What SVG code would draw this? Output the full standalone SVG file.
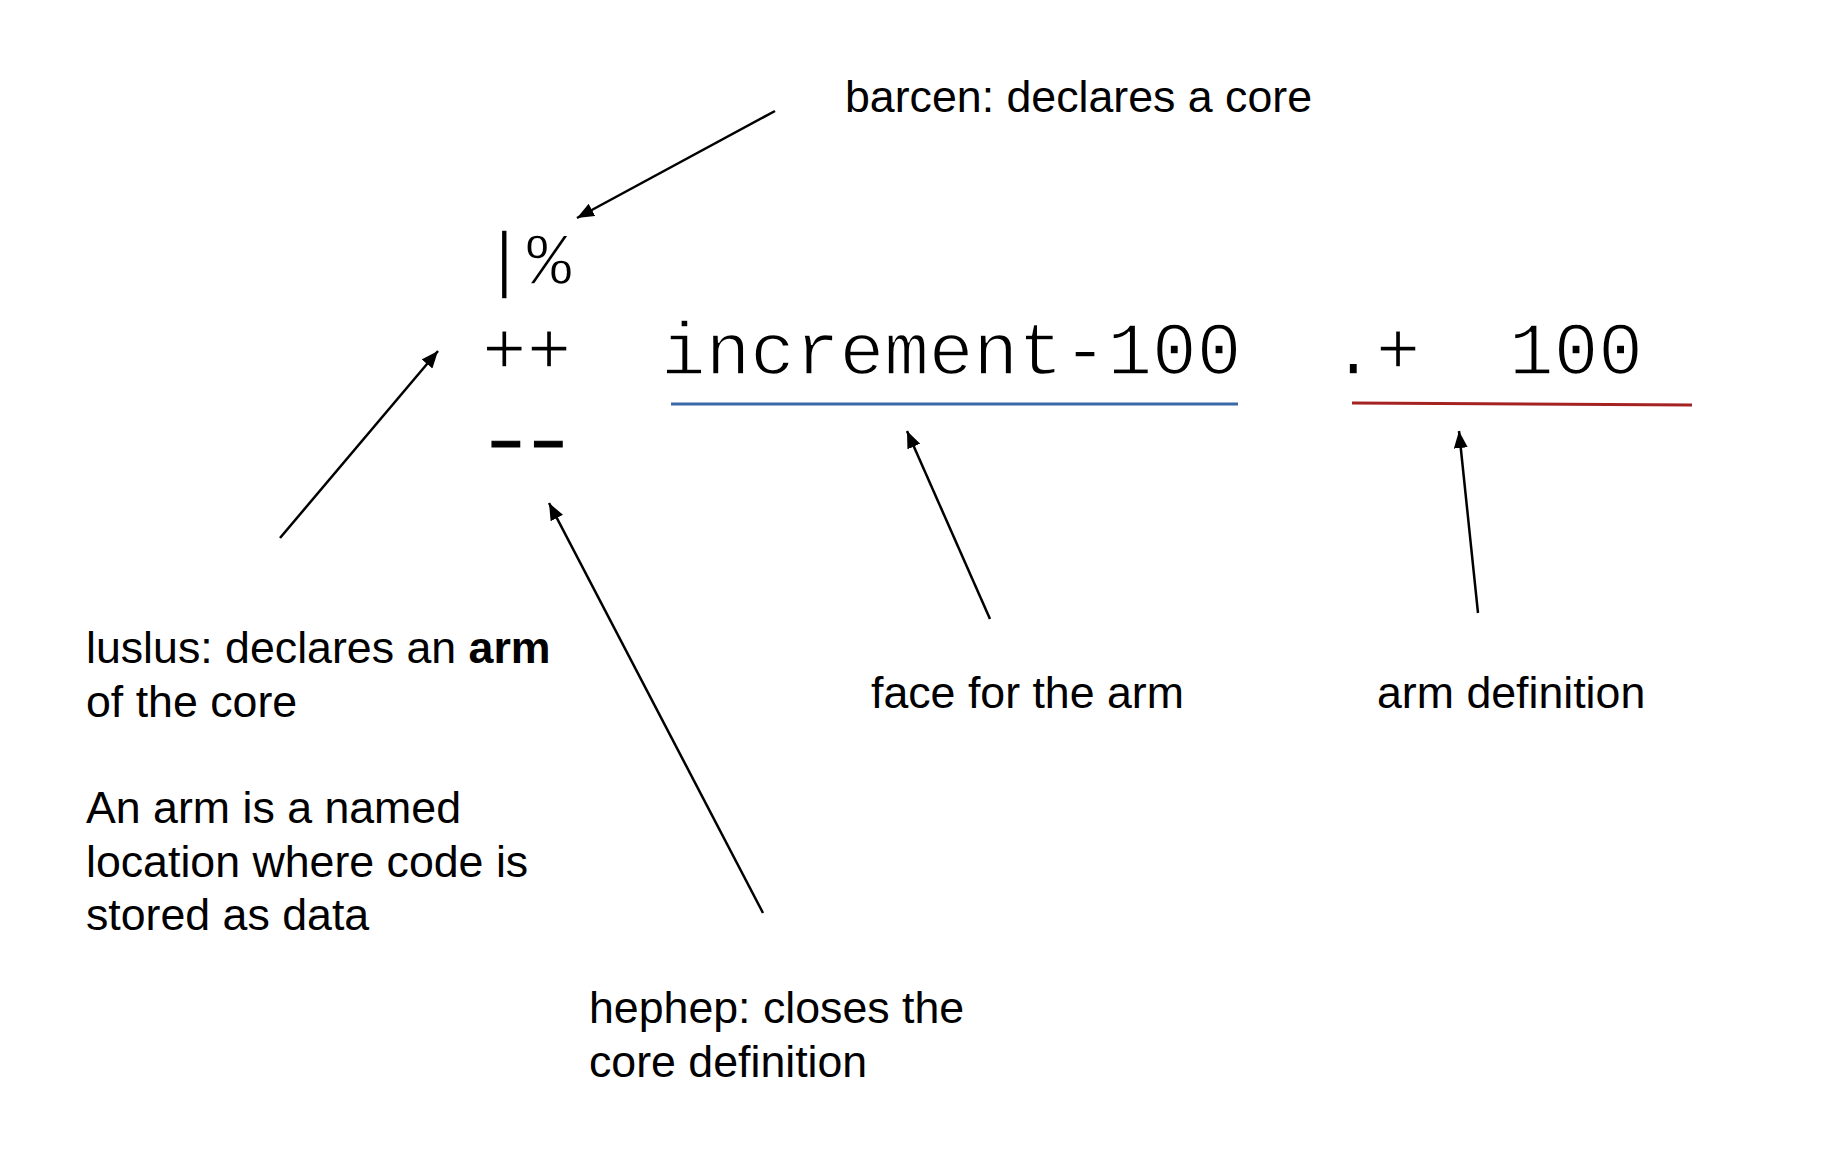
<svg xmlns="http://www.w3.org/2000/svg" width="1830" height="1150" viewBox="0 0 1830 1150">
<defs>
<style>
.lbl{font-family:"Liberation Sans",Arial,sans-serif;font-size:44.7px;fill:#000}
.code{font-family:"Liberation Mono","Courier New",monospace;font-size:74.4px;fill:#000;stroke:#fff;stroke-width:1.6px}
.dash{font-family:"Liberation Mono","Courier New",monospace;font-size:74.4px;fill:#000;stroke:#000;stroke-width:1px;letter-spacing:-13.1px}
.conn line{stroke:#000;stroke-width:2.5;fill:none;marker-end:url(#ah)}
</style>
<marker id="ah" markerUnits="userSpaceOnUse" markerWidth="18" markerHeight="14" refX="17" refY="7" orient="auto">
<path d="M0,0 L17,7 L0,14 z" fill="#000"/>
</marker>
</defs>
<rect width="1830" height="1150" fill="#fff"/>
<g id="code-bar"><text class="code" x="482" y="284">|%</text></g>
<g id="code-lus"><text class="code" x="482" y="374">++</text></g>
<g id="code-face"><text class="code" x="661" y="374">increment-100</text>
<line x1="671" y1="404" x2="1238" y2="404" stroke="#3a68a8" stroke-width="3"/></g>
<g id="code-def"><text class="code" x="1331" y="374">.+</text><text class="code" x="1509" y="374">100</text>
<line x1="1352" y1="403" x2="1692" y2="405" stroke="#a52222" stroke-width="3"/></g>
<g id="code-hep"><text class="dash" transform="translate(527,464) scale(1.35,1)" x="-38">--</text></g>
<g id="label-barcen"><text class="lbl" x="845" y="112">barcen: declares a core</text></g>
<g id="label-luslus"><text class="lbl" x="86" y="663">luslus: declares an <tspan font-weight="bold">arm</tspan></text>
<text class="lbl" x="86" y="717">of the core</text>
<text class="lbl" x="86" y="823">An arm is a named</text>
<text class="lbl" x="86" y="877">location where code is</text>
<text class="lbl" x="86" y="930">stored as data</text></g>
<g id="label-face"><text class="lbl" x="871" y="708">face for the arm</text></g>
<g id="label-def"><text class="lbl" x="1377" y="708">arm definition</text></g>
<g id="label-hephep"><text class="lbl" x="589" y="1023">hephep: closes the</text>
<text class="lbl" x="589" y="1077">core definition</text></g>
<g id="connectors" class="conn">
<line x1="775" y1="111" x2="577" y2="218"/>
<line x1="280" y1="538" x2="438" y2="351"/>
<line x1="763" y1="913" x2="549" y2="503"/>
<line x1="990" y1="619" x2="907" y2="431"/>
<line x1="1478" y1="613" x2="1459" y2="431"/>
</g>
</svg>
